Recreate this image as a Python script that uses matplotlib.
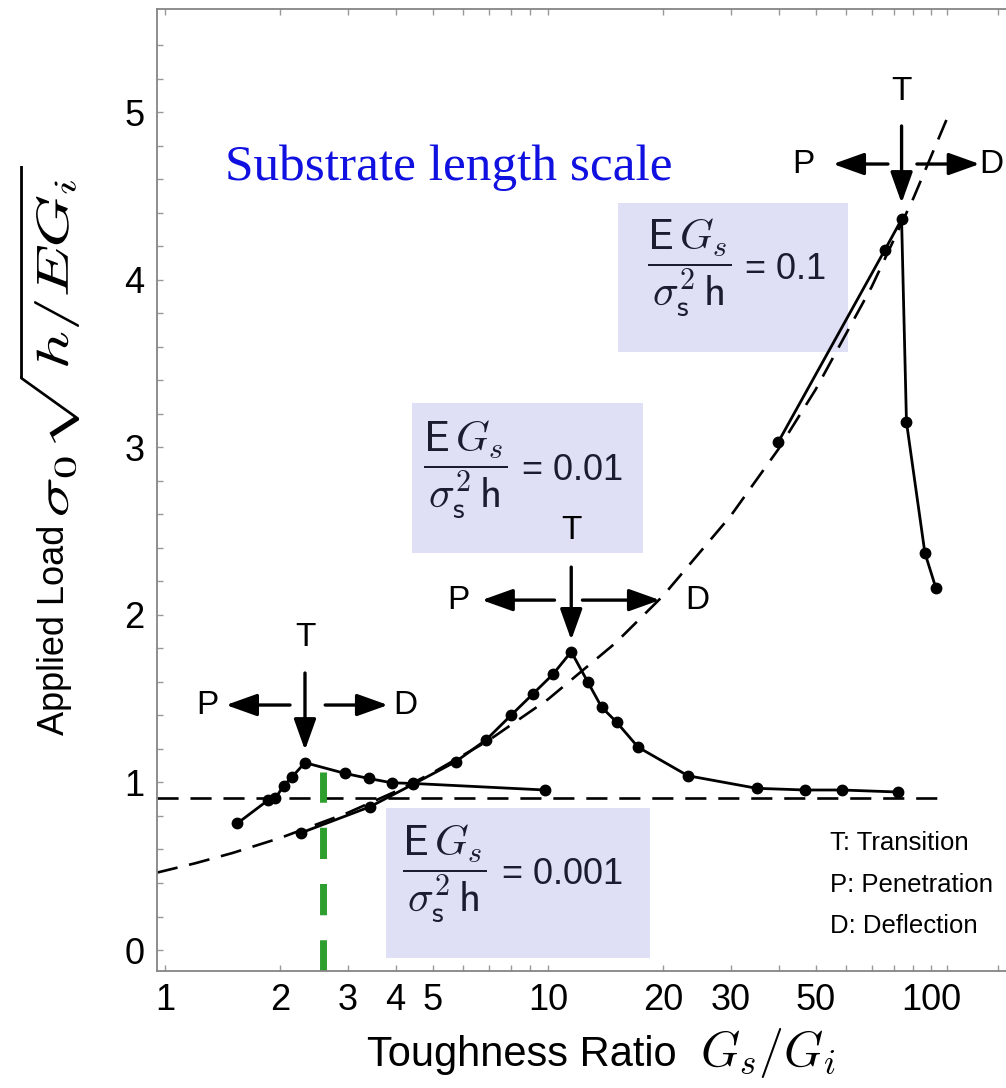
import matplotlib
matplotlib.use('Agg')
import matplotlib.pyplot as plt
from matplotlib.patches import Rectangle, PathPatch
from matplotlib.textpath import TextPath
from matplotlib.transforms import Affine2D

plt.rcParams['mathtext.fontset'] = 'cm'
plt.rcParams['font.family'] = ['Liberation Sans', 'DejaVu Sans']

# values
# EG_s/(sigma_s^2 h) = 0.001
a_x = [1.545, 1.86, 1.94, 2.04, 2.14, 2.32, 2.95, 3.40, 3.91, 4.45, 9.82]
a_y = [0.756, 0.895, 0.905, 0.98, 1.03, 1.118, 1.054, 1.024, 0.998, 0.994, 0.955]
# = 0.01
b_x = [2.27, 3.43, 4.45, 5.75, 6.9, 8.0, 9.15, 10.3, 11.5, 12.7, 13.8, 15.1, 17.2,
       23.2, 35.1, 46.9, 58.5, 82.0]
b_y = [0.70, 0.855, 0.99, 1.125, 1.255, 1.40, 1.53, 1.645, 1.78, 1.60, 1.45, 1.36,
       1.21, 1.04, 0.965, 0.955, 0.955, 0.943]
# = 0.1
c_x = [39.9, 75.9, 83.8, 86.3, 96.4, 103.0]
c_y = [3.03, 4.18, 4.36, 3.15, 2.37, 2.16]

# dashed guide curve (penetration/deflection boundary)
guide_x = [0.953, 1.2, 1.5, 2, 3, 4, 5, 7, 10, 15, 20, 30, 40, 50, 70, 90, 111]
guide_y = [0.462, 0.518, 0.579, 0.669, 0.819, 0.946, 1.058, 1.251, 1.496, 1.832,
           2.115, 2.591, 2.99, 3.345, 3.957, 4.487, 4.98]
# horizontal dashed asymptote
plateau_y = 0.91
plateau_x_end = 108
# green marker line
green_x = 2.585
green_top = 1.064

x_major = [1, 2, 3, 4, 5, 10, 20, 30, 50, 100]
x_minor = [6, 7, 8, 9, 40, 60, 70, 80, 90, 110, 150]
y_major = [0, 1, 2, 3, 4, 5]
y_minor = [0.2, 0.4, 0.6, 0.8, 1.2, 1.4, 1.6, 1.8, 2.2, 2.4, 2.6, 2.8, 3.2, 3.4,
           3.6, 3.8, 4.2, 4.4, 4.6, 4.8, 5.2, 5.4]

W, H = 1006, 1088
fig = plt.figure(figsize=(W / 100, H / 100), dpi=100)


def fx(px):
    return px / W


def fy(py):
    return 1 - py / H


ax = fig.add_axes([fx(157), fy(971), fx(1006) - fx(157), fy(9) - fy(971)])
ax.set_xscale('log')
ax.set_xlim(0.953, 157)
ax.set_ylim(-0.125, 5.615)

for s in ['left', 'bottom', 'top']:
    ax.spines[s].set_color('#858585')
    ax.spines[s].set_linewidth(1.3)
ax.spines['right'].set_visible(False)

ax.set_xticks(x_major)
ax.set_xticklabels([str(v) for v in x_major])
ax.set_xticks(x_minor, minor=True)
ax.set_xticklabels([], minor=True)
ax.set_yticks(y_major)
ax.set_yticks(y_minor, minor=True)
ax.tick_params(which='both', direction='in', length=4, width=1, color='#999999',
               top=True, right=False, labelsize=26, pad=9)

# guides
ax.plot(guide_x, guide_y, color='k', lw=1.9, dashes=(8, 4.5), zorder=2)
ax.plot([ax.get_xlim()[0], plateau_x_end], [plateau_y, plateau_y], color='k', lw=1.9,
        dashes=(8, 4.5), zorder=2)
ax.plot([green_x, green_x], [ax.get_ylim()[0], green_top], color='#2e9e2e', lw=5,
        dashes=(4.5, 3.6), zorder=2)

for xs, ys in [(a_x, a_y), (b_x, b_y), (c_x, c_y)]:
    ax.plot(xs, ys, color='k', lw=2.0, marker='o', ms=7.5, zorder=4)

# T / P / D arrows
groups = [
    dict(xt=2.32, yt=1.862, y0=1.653, y1=1.193, yh=1.462,
         l0=2.12, l1=1.443, xp=1.287, r0=2.62, r1=3.82, xd=4.23),
    dict(xt=11.5, yt=2.506, y0=2.285, y1=1.85, yh=2.088,
         l0=10.4, l1=6.72, xp=5.82, r0=12.3, r1=19.6, xd=24.5),
    dict(xt=83.8, yt=5.12, y0=4.917, y1=4.457, yh=4.69,
         l0=77.2, l1=55.5, xp=46.3, r0=91.9, r1=134, xd=144),
]
ap = dict(arrowstyle='-|>,head_length=0.95,head_width=0.34', lw=2.4, color='k',
          shrinkA=0, shrinkB=0, mutation_scale=20)
for g in groups:
    ax.text(g['xt'], g['yt'], 'T', fontsize=24, ha='center', va='center', zorder=6)
    ax.annotate('', xy=(g['xt'], g['y1']), xytext=(g['xt'], g['y0']), arrowprops=ap,
                zorder=6)
    ax.annotate('', xy=(g['l1'], g['yh']), xytext=(g['l0'], g['yh']), arrowprops=ap,
                zorder=6)
    ax.annotate('', xy=(g['r1'], g['yh']), xytext=(g['r0'], g['yh']), arrowprops=ap,
                zorder=6)
    ax.text(g['xp'], g['yh'], 'P', fontsize=24, ha='center', va='center', zorder=6)
    ax.text(g['xd'], g['yh'], 'D', fontsize=24, ha='center', va='center', zorder=6)

# parameter boxes
frac = r'$\dfrac{\mathsf{E}\,G_s}{\sigma_{\mathsf{s}}^{\mathsf{2}}\,\mathsf{h}}$'
boxes = [
    ((618, 203, 848, 352), (689, 268), (745, 269), '= 0.1'),
    ((412, 403, 643, 553), (465, 470), (522, 470), '= 0.01'),
    ((386, 808, 650, 958), (444, 874), (502, 875), '= 0.001'),
]
for (x0, y0, x1, y1), (fxc, fyc), (ex, ey), lab in boxes:
    ax.add_patch(Rectangle((fx(x0), fy(y1)), fx(x1) - fx(x0), fy(y0) - fy(y1),
                           transform=fig.transFigure, facecolor='#dfdff5',
                           edgecolor='none', zorder=1))
    fig.text(fx(fxc), fy(fyc), frac, fontsize=31, ha='center', va='center',
             color='#1c1c30')
    fig.text(fx(ex), fy(ey), lab, fontsize=26, ha='left', va='center',
             color='#1c1c30')

fig.text(fx(225), fy(168), 'Substrate length scale', family='Liberation Serif',
         fontsize=37, color='#1010e0', ha='left', va='center')

for i, t in enumerate(['T: Transition', 'P: Penetration', 'D: Deflection']):
    fig.text(fx(830), fy(843 + 41.5 * i), t, fontsize=18.5, ha='left', va='center')

# axis labels
fig.text(fx(522), fy(1066), 'Toughness Ratio', fontsize=30, ha='center',
         va='baseline')
fig.text(fx(700), fy(1066), r'$G_s/G_i$', fontsize=36, ha='left', va='baseline')
fig.text(fx(55), fy(630), 'Applied Load', fontsize=26, rotation=90, ha='center',
         va='center')

# y-label formula stretched to the box it fills in the original (pixel box)
tp = TextPath((0, 0), r'$\sigma_0\sqrt{h/EG_i}$', size=40)
bb = tp.get_extents()
lx0, ly0, lx1, ly1 = 20, 166, 79, 515
tr = (Affine2D().translate(-bb.x0, -bb.y0)
      .scale((ly1 - ly0) / bb.width, (lx1 - lx0) / bb.height)
      .rotate_deg(90).translate(lx1, H - ly1))
fig.add_artist(PathPatch(tp, transform=tr, facecolor='k', edgecolor='none'))

fig.savefig('out.png', dpi=100)
